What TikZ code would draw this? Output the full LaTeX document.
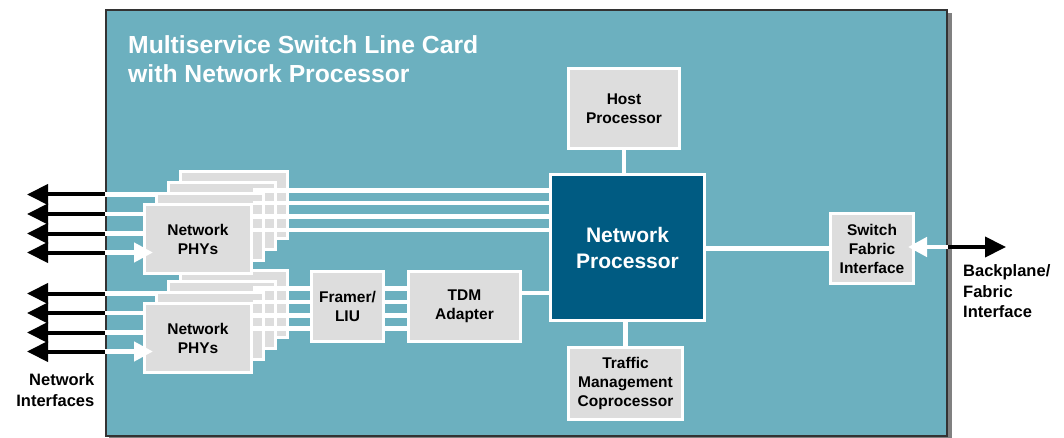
\documentclass[tikz,border=0pt]{standalone}
\usepackage{fontspec}
\setmainfont{Liberation Sans}
\usetikzlibrary{arrows.meta}
\definecolor{card}{HTML}{6CB0BF}
\definecolor{npblue}{HTML}{005B82}
\definecolor{boxgray}{HTML}{DDDDDD}
\definecolor{cardedge}{HTML}{333333}
\definecolor{shadowgray}{HTML}{808080}
\begin{document}
\begin{tikzpicture}[x=1pt,y=-1pt,
  blk/.style={draw=white, line width=3pt, fill=boxgray, inner sep=0pt, align=center, text=black,
    font=\fontsize{15.5}{19}\selectfont\bfseries},
  npbox/.style={blk, fill=npblue, text=white, font=\fontsize{21}{26}\selectfont\bfseries},
  wire/.style={draw=white, line width=4.5pt},
  wirearrow/.style={wire, -{Triangle[length=19pt,width=19pt]}},
  blackarrow/.style={draw=black, line width=4pt, -{Triangle[length=21pt,width=20pt]}},
  lbl/.style={inner sep=0pt, text=black, font=\fontsize{16.5}{21}\selectfont\bfseries}
]
\useasboundingbox (0,0) rectangle (1064,438);
% card with shadow
\fill[shadowgray] (109,13) rectangle (952,441);
\draw[cardedge, line width=2pt, fill=card] (106,10) rectangle (947,436);
\node[anchor=west, inner sep=0pt, align=left, text=white,
  font=\fontsize{24.7}{29.4}\selectfont\bfseries] (title) at (128,59.2)
  {Multiservice Switch Line Card\\with Network Processor};

% left interface coordinates
\foreach \n/\y in {1/194.5,2/214,3/233.5,4/252.5,5/293.5,6/313,7/332.5,8/351.5}{
  \coordinate (L\n) at (105,\y);
  \coordinate (T\n) at (27,\y);
}
% back PHY boxes (top group)
\node[blk, minimum width=107pt, minimum height=67pt] (pa4) at (234,205) {};
\node[blk, minimum width=107pt, minimum height=67pt] (pa3) at (222,216) {};
\node[blk, minimum width=107pt, minimum height=67pt] (pa2) at (210,227) {};
% back PHY boxes (bottom group)
\node[blk, minimum width=107pt, minimum height=67pt] (pb4) at (234,304) {};
\node[blk, minimum width=107pt, minimum height=67pt] (pb3) at (222,315) {};
\node[blk, minimum width=107pt, minimum height=67pt] (pb2) at (210,326) {};

% main blocks
\node[npbox, minimum width=154pt, minimum height=146pt] (np) at (627.5,247.5) {Network\\Processor};
\node[blk, minimum width=111pt, minimum height=80pt] (host) at (624,108.5) {Host\\Processor};
\node[blk, minimum width=114pt, minimum height=72pt] (tm) at (625.5,383.5) {Traffic\\Management\\Coprocessor};
\node[blk, minimum width=72pt, minimum height=70pt] (fr) at (347.5,306.5) {Framer/\\LIU};
\node[blk, minimum width=112pt, minimum height=70pt] (tdm) at (464.5,306.5) {TDM\\Adapter};
\node[blk, minimum width=83pt, minimum height=70pt] (sw) at (872,248.5) {Switch\\Fabric\\Interface};

% wires from PHY groups
\foreach \n/\y in {1/190.5,2/203,3/216.5,4/230}{
  \coordinate (ra\n) at (0,\y);
  \draw[wire] (253,\y) -- (np.west |- ra\n);
}
\foreach \n/\y in {1/288.5,2/302,3/315.5,4/328.5}{
  \coordinate (rb\n) at (0,\y);
  \draw[wire] (253,\y) -- (fr.west |- rb\n);
  \draw[wire] (fr.east |- rb\n) -- (tdm.west |- rb\n);
}

% left wires into PHYs
\draw[wire] (L1) -- (L1 -| pa2.west);
\draw[wire] (L2) -- (180,214);
\draw[wire] (L3) -- (180,233.5);
\draw[wire] (L5) -- (L5 -| pb2.west);
\draw[wire] (L6) -- (180,313);
\draw[wire] (L7) -- (180,332.5);

% front PHY boxes
\node[blk, minimum width=107pt, minimum height=69pt] (pa1) at (198,239) {Network\\PHYs};
\node[blk, minimum width=107pt, minimum height=69pt] (pb1) at (198,338) {Network\\PHYs};
\coordinate (ia) at (153,252.5);
\coordinate (ib) at (153,351.5);
\draw[wirearrow] (L4) -- (ia);
\draw[wirearrow] (L8) -- (ib);

% black external arrows
\foreach \n in {1,...,8}{ \draw[blackarrow] (L\n) -- (T\n); }

% connectors
\coordinate (tq) at (0,293);
\draw[wire] (tdm.east |- tq) -- (np.west |- tq);
\draw[wire] (host.south) -- (host.south |- np.north);
\draw[wire] (np.south -| tm.north) -- (tm.north);
\draw[wire] (np.east |- sw.west) -- (sw.west);
\coordinate (E) at (948,247);
\coordinate (swin) at (908,247);
\coordinate (bp) at (1006,247);
\draw[wirearrow] (E) -- (swin);
\draw[blackarrow] (E) -- (bp);

% outside labels
\node[lbl, anchor=east, align=right] (ni) at (94.5,390) {Network\\Interfaces};
\node[lbl, anchor=west, align=left, font=\fontsize{16.5}{20.7}\selectfont\bfseries] (bpl) at (963,291.3) {Backplane/\\Fabric\\Interface};
\end{tikzpicture}
\end{document}
